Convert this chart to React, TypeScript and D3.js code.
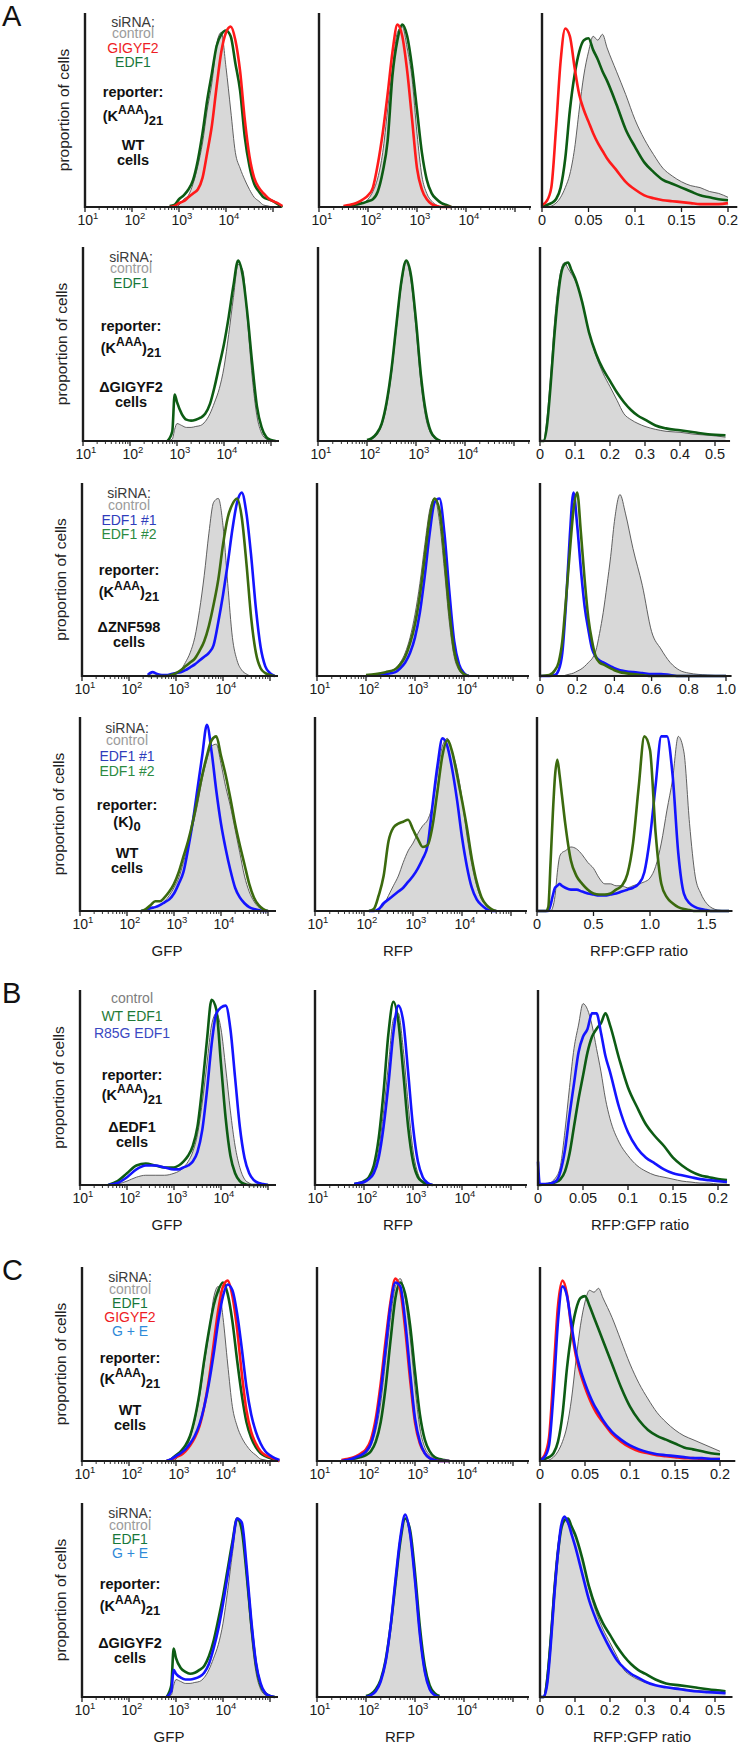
import React, { useEffect } from 'react';
import * as d3 from 'd3';

const FONT = '"Liberation Sans", Arial, Helvetica, sans-serif';
const RED = '#ff1a1a';
const GREEN = '#0d5c14';
const OLIVE = '#3b6a0e';
const BLUE = '#1414ff';
const FILL = '#d8d8d8';
const OUTLINE = '#505050';
const AXIS = '#1c1c1c';

// ---------------- bins (log10 units for GFP / RFP, linear for ratio) ----------------
const gfpBinsWT = [2.8, 2.9, 3.0, 3.1, 3.2, 3.3, 3.4, 3.5, 3.6, 3.7, 3.8, 3.9, 4.0, 4.1, 4.2, 4.3, 4.4, 4.5, 4.6, 4.7, 4.8, 4.9, 5.0, 5.1, 5.2];
const rfpBinsWT = [1.5, 1.6, 1.7, 1.8, 1.9, 2.0, 2.1, 2.2, 2.3, 2.4, 2.5, 2.6, 2.7, 2.8, 2.9, 3.0, 3.1, 3.2, 3.3, 3.4, 3.5, 3.6, 3.7];
const ratioBinsWT = [0, 0.005, 0.01, 0.015, 0.02, 0.025, 0.03, 0.035, 0.04, 0.045, 0.05, 0.055, 0.06, 0.065, 0.07, 0.08, 0.09, 0.1, 0.11, 0.12, 0.13, 0.14, 0.15, 0.16, 0.17, 0.18, 0.19, 0.2];
const gfpBinsDG = [2.8, 2.9, 2.95, 3.0, 3.1, 3.2, 3.3, 3.4, 3.5, 3.6, 3.7, 3.8, 3.9, 4.0, 4.1, 4.2, 4.3, 4.4, 4.5, 4.6, 4.7, 4.8, 4.9, 5.0, 5.1];
const rfpBinsDG = [2.0, 2.1, 2.2, 2.3, 2.4, 2.5, 2.6, 2.7, 2.8, 2.9, 3.0, 3.1, 3.2, 3.3, 3.4, 3.5];
const ratioBinsDG = [0, 0.01, 0.02, 0.03, 0.04, 0.05, 0.06, 0.07, 0.08, 0.09, 0.1, 0.12, 0.14, 0.16, 0.18, 0.2, 0.22, 0.24, 0.26, 0.28, 0.3, 0.33, 0.36, 0.4, 0.44, 0.48, 0.53];
const gfpBinsZ = [2.4, 2.5, 2.6, 2.7, 2.8, 2.9, 3.0, 3.1, 3.2, 3.3, 3.4, 3.5, 3.6, 3.7, 3.8, 3.9, 4.0, 4.1, 4.2, 4.3, 4.4, 4.5, 4.6, 4.7, 4.8, 4.9, 5.0, 5.1];
const rfpBinsZ = [2.0, 2.2, 2.4, 2.6, 2.7, 2.8, 2.9, 3.0, 3.1, 3.2, 3.3, 3.4, 3.5, 3.6, 3.7, 3.8, 3.9, 4.0, 4.1];
const ratioBinsZ = [0, 0.05, 0.08, 0.1, 0.12, 0.14, 0.16, 0.18, 0.2, 0.22, 0.24, 0.26, 0.28, 0.3, 0.32, 0.34, 0.36, 0.38, 0.4, 0.43, 0.46, 0.5, 0.55, 0.6, 0.65, 0.7, 0.75, 0.8, 0.9, 1.0];
const gfpBinsK0 = [2.3, 2.4, 2.5, 2.6, 2.7, 2.8, 2.9, 3.0, 3.1, 3.2, 3.3, 3.4, 3.5, 3.6, 3.7, 3.8, 3.9, 4.0, 4.1, 4.2, 4.3, 4.4, 4.5, 4.6, 4.7, 4.8, 4.9, 5.0];
const rfpBinsK0 = [2.1, 2.2, 2.3, 2.4, 2.5, 2.6, 2.7, 2.8, 2.9, 3.0, 3.1, 3.2, 3.3, 3.4, 3.5, 3.6, 3.7, 3.8, 3.9, 4.0, 4.1, 4.2, 4.3, 4.4, 4.5, 4.6, 4.7];
const ratioBinsK0 = [0, 0.08, 0.1, 0.12, 0.14, 0.16, 0.18, 0.2, 0.22, 0.25, 0.3, 0.35, 0.4, 0.45, 0.5, 0.55, 0.6, 0.65, 0.7, 0.75, 0.8, 0.85, 0.9, 0.95, 1.0, 1.05, 1.1, 1.15, 1.2, 1.25, 1.3, 1.35, 1.4, 1.45, 1.5, 1.55, 1.6, 1.7];
const gfpBinsDE = [1.6, 1.8, 2.0, 2.2, 2.4, 2.6, 2.8, 3.0, 3.1, 3.2, 3.3, 3.4, 3.5, 3.6, 3.7, 3.8, 3.9, 4.0, 4.1, 4.2, 4.3, 4.4, 4.5, 4.6, 4.7, 4.8, 4.9, 5.0];
const rfpBinsDE = [1.8, 1.9, 2.0, 2.1, 2.2, 2.3, 2.4, 2.5, 2.6, 2.7, 2.8, 2.9, 3.0, 3.1, 3.2, 3.3, 3.4];
const ratioBinsDE = [0, 0.002, 0.01, 0.02, 0.025, 0.03, 0.035, 0.04, 0.045, 0.05, 0.055, 0.06, 0.065, 0.07, 0.075, 0.08, 0.09, 0.1, 0.11, 0.12, 0.13, 0.14, 0.15, 0.16, 0.17, 0.18, 0.19, 0.2, 0.21];

// ---------------- A, row 1: WT cells, (KAAA)21 ----------------
const a1GfpControl = [0, 0, 1, 4, 6, 12, 21, 33, 50, 64, 84, 90, 72, 50, 28, 20, 14, 9, 5, 3, 1, 0.5, 0, 0, 0];
const a1GfpEdf1 = [0.5, 1, 4, 6, 9, 14, 24, 38, 55, 69, 83, 89, 91, 88, 74, 60, 36, 21, 12, 8, 5, 4, 3, 1.5, 0];
const a1GfpGigyf2 = [0, 0.5, 2, 3, 5, 7, 9, 15, 28, 42, 62, 80, 90, 93, 86, 70, 45, 26, 15, 10, 7, 4.5, 3, 2, 0.5];
const a1RfpControl = [0, 0, 0.5, 1, 2, 4, 8, 15, 28, 50, 72, 90, 93, 82, 66, 38, 16, 7, 3, 1, 0, 0, 0];
const a1RfpGigyf2 = [0.5, 1, 1.5, 2.5, 4, 6, 10, 22, 38, 58, 80, 94, 88, 70, 45, 20, 9, 4, 1.5, 0.5, 0, 0, 0];
const a1RfpEdf1 = [0, 0.5, 1, 1.5, 2, 3, 4, 8, 18, 34, 68, 86, 94, 88, 72, 50, 28, 14, 7, 4, 2, 1, 0];
const a1RatioControl = [0, 0, 0.5, 2, 5, 10, 17, 30, 50, 68, 80, 88, 86, 89, 82, 70, 58, 45, 35, 27, 20, 16, 13, 11, 10, 8, 7, 5];
const a1RatioEdf1 = [0, 1, 2, 4, 10, 25, 50, 68, 80, 86, 87, 81, 76, 70, 65, 53, 40, 31, 23, 18, 14, 12, 10, 8, 6, 5, 4, 3.5];
const a1RatioGigyf2 = [1, 3, 10, 40, 75, 92, 88, 72, 58, 50, 44, 38, 33, 29, 25, 19, 13, 9, 6, 4.5, 3.5, 3, 2.5, 2, 1.5, 1.5, 1.5, 2];

// ---------------- A, row 2: ΔGIGYF2 cells ----------------
const a2GfpControl = [0, 1, 6, 9, 8, 7, 7, 7.5, 8, 10, 14, 20, 27, 38, 55, 74, 91, 88, 62, 33, 13, 4, 1, 0, 0];
const a2GfpEdf1 = [0, 5, 24, 20, 14, 11, 10.5, 11, 12, 14, 19, 28, 39, 50, 64, 80, 93, 85, 65, 40, 18, 7, 2, 0.5, 0];
const a2RfpControl = [0, 1, 3, 8, 18, 35, 58, 80, 92, 82, 58, 30, 12, 4, 1, 0];
const a2RfpEdf1 = [0.5, 1.5, 4, 9, 20, 37, 60, 82, 93, 85, 62, 34, 15, 5, 1.5, 0];
const a2RatioControl = [0, 0, 12, 33, 58, 77, 88, 92, 89, 86, 83, 72, 56, 44, 35, 28, 21, 14, 11, 9, 7.5, 6, 5, 4.5, 3.5, 3, 2];
const a2RatioEdf1 = [0, 0, 8, 28, 52, 72, 86, 91, 92, 88, 84, 72, 56, 45, 37, 31, 25, 20, 16, 13, 11, 8, 6.5, 5.5, 4.5, 3.5, 3];

// ---------------- A, row 3: ΔZNF598 cells ----------------
const a3GfpControl = [0, 0, 0, 0, 0, 0, 1, 3, 7, 12, 20, 34, 52, 74, 90, 92, 78, 48, 20, 8, 3, 1, 0, 0, 0, 0, 0, 0];
const a3GfpEdf1n1 = [0.5, 2, 1, 0.5, 0.5, 1, 1.5, 2, 3, 4.5, 6, 8, 10, 12, 16, 28, 42, 58, 76, 90, 95, 84, 62, 35, 15, 5, 1.5, 0];
const a3GfpEdf1n2 = [0, 0, 0, 0, 0, 0.5, 1.5, 3, 5, 7, 9, 13, 18, 26, 37, 50, 68, 82, 89, 92, 82, 58, 30, 12, 4, 1.5, 0.5, 0];
const a3RfpControl = [0, 1, 2, 4, 7, 12, 20, 32, 48, 68, 86, 92, 80, 55, 28, 10, 3, 0.5, 0];
const a3RfpEdf1n1 = [0, 0.5, 1, 2, 4, 7, 12, 20, 33, 52, 74, 90, 92, 74, 44, 18, 6, 1.5, 0];
const a3RfpEdf1n2 = [0.5, 1, 2, 3.5, 6, 10, 17, 27, 42, 62, 82, 92, 86, 62, 34, 13, 4, 1, 0];
const a3RatioControl = [0, 0, 0, 0, 0, 0.5, 1, 1.5, 2.5, 3.5, 5, 7, 9, 13, 22, 33, 47, 62, 80, 94, 84, 66, 47, 23, 14, 7, 3, 1.5, 0.5, 0];
const a3RatioEdf1n1 = [0, 0, 0.5, 3, 12, 38, 72, 95, 78, 55, 36, 24, 14, 10, 8, 7, 6, 5, 4, 3, 2.5, 2, 1.5, 1, 1, 0.5, 0, 0, 0, 0];
const a3RatioEdf1n2 = [0, 0.5, 3, 7, 18, 40, 64, 86, 95, 74, 50, 30, 18, 10, 7, 6, 5, 4, 3, 2, 1.5, 1, 0.5, 0, 0, 0, 0, 0, 0, 0];

// ---------------- A, row 4: WT cells, (K)0 ----------------
const a4GfpControl = [0, 0, 1, 2, 3, 5, 8, 12, 17, 25, 34, 44, 55, 68, 78, 85, 86, 76, 64, 54, 42, 30, 18, 10, 5, 2, 0.5, 0];
const a4GfpEdf1n1 = [0, 0.5, 1.5, 2, 3, 4.5, 6, 9, 14, 20, 32, 46, 63, 80, 96, 82, 62, 45, 32, 21, 12, 7, 4, 2, 1, 0.5, 0, 0];
const a4GfpEdf1n2 = [0, 1, 3, 5, 5, 7, 10, 14, 20, 28, 36, 46, 58, 70, 80, 88, 90, 80, 70, 58, 45, 34, 24, 14, 7, 3, 1, 0];
const a4RfpControl = [0, 0, 0.5, 3, 8, 13, 18, 25, 31, 35, 40, 44, 47, 55, 71, 85, 89, 82, 73, 58, 39, 24, 13, 6, 3, 1, 0];
const a4RfpEdf1n1 = [0, 0, 1, 4, 6, 8, 10, 12, 15, 18, 22, 27, 34, 55, 75, 89, 85, 73, 57, 38, 23, 12, 6, 3, 1, 0, 0];
const a4RfpEdf1n2 = [0, 1, 8, 18, 36, 43, 45, 46, 47, 42, 37, 33, 34, 44, 62, 80, 88, 82, 70, 57, 43, 27, 15, 7, 3, 1, 0];
const a4RatioControl = [0, 0, 0, 0, 2, 8, 20, 28, 30, 31, 33, 32, 29, 25, 22, 17, 14, 14, 13, 13, 12, 13, 14, 15, 17, 23, 35, 52, 68, 90, 82, 45, 18, 9, 4, 1.5, 0.5, 0];
const a4RatioEdf1n1 = [0, 0, 0, 3, 8, 12, 13, 14, 13, 12, 11, 11, 10, 9, 8.5, 8, 8, 8.5, 9, 10, 11, 12, 14, 20, 38, 65, 90, 90, 70, 30, 9, 4, 2, 1, 0.5, 0, 0, 0];
const a4RatioEdf1n2 = [0, 0, 2, 25, 50, 70, 78, 70, 60, 45, 26, 18, 14, 11, 9, 8.5, 8.5, 9, 11, 13, 19, 35, 64, 90, 83, 40, 14, 7, 4, 2, 1, 0.5, 0, 0, 0, 0, 0, 0];

// ---------------- B: ΔEDF1 cells ----------------
const bGfpControl = [0, 0.5, 2, 4, 5, 5, 5, 6, 7, 9, 12, 17, 26, 42, 62, 82, 88, 80, 60, 38, 20, 9, 3, 1, 0, 0, 0, 0];
const bGfpWt = [0, 2, 6, 10, 11, 10, 9, 9, 10, 12, 15, 20, 30, 50, 74, 95, 90, 62, 34, 15, 6, 2, 0.5, 0, 0, 0, 0, 0];
const bGfpR85g = [0, 1, 4, 8, 10, 10, 9, 8, 8, 9, 10, 12, 17, 28, 48, 72, 88, 91, 92, 80, 55, 30, 14, 6, 2.5, 1, 0.5, 0];
const bRfpControl = [0, 0.5, 1, 3, 8, 18, 38, 62, 85, 88, 70, 42, 18, 6, 2, 0.5, 0];
const bRfpWt = [0.5, 1, 2, 4, 10, 24, 48, 78, 94, 84, 58, 30, 12, 4, 1.5, 0.5, 0];
const bRfpR85g = [0.5, 1, 1.5, 3, 6, 14, 30, 52, 78, 92, 84, 58, 30, 12, 4, 1, 0];
const bRatioControl = [0, 0, 0.5, 4, 10, 28, 50, 70, 82, 93, 90, 82, 70, 58, 44, 34, 22, 15, 10, 7, 5, 4, 3, 2, 1.5, 1, 1, 0.5, 0.5];
const bRatioWt = [0, 0, 0.5, 1.5, 3, 7, 16, 30, 44, 56, 68, 76, 80, 83, 88, 82, 65, 50, 40, 31, 25, 20, 14, 10, 7, 5, 4, 3, 2.5];
const bRatioR85g = [12, 0.5, 0.5, 2, 7, 18, 36, 52, 68, 76, 80, 88, 88, 78, 66, 58, 40, 27, 19, 14, 11, 8, 6, 5, 4, 3, 2.5, 2, 1.5];

// ---------------- C, row 1: WT cells ----------------
const c1GfpControl = [0, 0, 1, 4, 6, 12, 21, 33, 50, 66, 84, 90, 74, 50, 28, 18, 12, 8, 5, 3, 1, 0.5, 0, 0, 0];
const c1GfpEdf1 = [0, 1, 3, 5, 8, 13, 22, 35, 52, 67, 80, 88, 92, 86, 72, 52, 34, 20, 12, 7, 4, 2.5, 1.5, 0.5, 0];
const c1GfpGigyf2 = [0, 0.5, 2, 3, 5, 8, 12, 18, 28, 42, 60, 78, 90, 93, 85, 68, 45, 26, 15, 9, 5, 3, 2, 1, 0];
const c1GfpGE = [0, 1, 2.5, 4, 6, 9, 13, 19, 28, 40, 55, 72, 85, 91, 88, 76, 58, 38, 24, 15, 9, 5, 3, 1.5, 0.5];
const c1RfpControl = [0, 0, 0.5, 1, 2, 4, 8, 16, 30, 52, 74, 90, 94, 84, 64, 38, 17, 7, 3, 1, 0, 0, 0];
const c1RfpEdf1 = [0, 0.5, 1, 1.5, 2, 3, 5, 10, 20, 38, 62, 84, 92, 86, 70, 46, 24, 11, 5, 2, 1, 0.5, 0];
const c1RfpGigyf2 = [0.5, 1, 1.5, 2.5, 4, 6, 11, 22, 40, 62, 82, 94, 88, 68, 42, 20, 9, 4, 1.5, 0.5, 0, 0, 0];
const c1RfpGE = [0, 0.5, 1, 2, 3, 5, 9, 19, 36, 58, 80, 92, 90, 72, 46, 22, 10, 4, 1.5, 0.5, 0, 0, 0];
const c1RatioControl = [0, 0, 0.5, 2, 5, 10, 18, 32, 52, 70, 82, 88, 87, 89, 84, 74, 62, 50, 40, 32, 25, 20, 16, 13, 11, 9, 7, 5];
const c1RatioEdf1 = [0, 1, 2, 4, 10, 24, 48, 66, 78, 84, 85, 80, 74, 68, 62, 50, 38, 28, 21, 16, 13, 11, 9, 7, 6, 5, 4, 3.5];
const c1RatioGigyf2 = [0.5, 3, 12, 45, 80, 93, 86, 68, 54, 45, 38, 32, 27, 23, 20, 14, 10, 7, 5, 4, 3, 2.5, 2, 1.5, 1.5, 1, 1, 1];
const c1RatioGE = [0.5, 2, 8, 35, 72, 90, 85, 70, 56, 47, 40, 34, 29, 25, 21, 15, 11, 8, 6, 4.5, 3.5, 3, 2.5, 2, 1.5, 1.5, 1, 1];

// ---------------- C, row 2: ΔGIGYF2 cells ----------------
const c2GfpControl = [0, 1, 6, 9, 8, 7, 7, 7.5, 8, 10, 14, 20, 27, 38, 55, 74, 91, 88, 62, 33, 13, 4, 1, 0, 0];
const c2GfpEdf1 = [0, 6, 25, 20, 15, 13, 12, 12.5, 14, 16, 21, 29, 40, 52, 66, 80, 92, 86, 64, 38, 17, 6, 2, 0.5, 0];
const c2GfpGE = [0, 3, 14, 12, 10, 9, 9, 9.5, 10.5, 12.5, 17, 25, 35, 48, 63, 78, 92, 90, 68, 40, 18, 7, 2, 0.5, 0];
const c2RfpControl = [0, 1, 3, 8, 18, 35, 58, 80, 92, 82, 58, 30, 12, 4, 1, 0];
const c2RfpEdf1 = [0.5, 1.5, 4, 9, 19, 36, 58, 80, 92, 86, 64, 36, 16, 6, 2, 0.5];
const c2RfpGE = [0, 1, 3, 8, 18, 36, 60, 82, 94, 84, 60, 32, 13, 4, 1, 0];
const c2RatioControl = [0, 0, 12, 33, 58, 77, 88, 92, 89, 86, 83, 72, 56, 44, 35, 28, 21, 14, 11, 9, 7.5, 6, 5, 4.5, 3.5, 3, 2];
const c2RatioEdf1 = [0, 0, 8, 28, 52, 72, 86, 91, 92, 88, 84, 72, 57, 46, 38, 32, 26, 21, 17, 14, 12, 9, 7, 6, 5, 4, 3];
const c2RatioGE = [0, 0, 6, 25, 50, 72, 88, 93, 90, 84, 78, 64, 50, 40, 32, 25, 19, 15, 12, 10, 8, 6, 5, 4, 3, 2.5, 2];

// ---------------- tick labels ----------------
const logTickExps = [1, 2, 3, 4];
const ratioTicksA1 = [0, 0.05, 0.1, 0.15, 0.2];
const ratioLabelsA1 = ['0', '0.05', '0.1', '0.15', '0.2'];
const ratioTicksA2 = [0, 0.1, 0.2, 0.3, 0.4, 0.5];
const ratioLabelsA2 = ['0', '0.1', '0.2', '0.3', '0.4', '0.5'];
const ratioTicksA3 = [0, 0.2, 0.4, 0.6, 0.8, 1.0];
const ratioLabelsA3 = ['0', '0.2', '0.4', '0.6', '0.8', '1.0'];
const ratioTicksA4 = [0, 0.5, 1.0, 1.5];
const ratioLabelsA4 = ['0', '0.5', '1.0', '1.5'];

// ---------------- layout ----------------
type Curve = { ys: number[]; color: string; fill?: boolean };
type LinAxis = { ppu: number; dmax: number; ticks: number[]; labels: string[] };
type LegendItem = { text: string; color: string; dy: number };
type RowDef = {
  top: number; base: number; ax: [number, number, number]; letter?: string;
  legend: LegendItem[]; legendDx: number;
  reporter: { dy: number; kDy: number; k0?: boolean };
  cells: [string, string, number];
  gfp: { bins: number[]; curves: Curve[] };
  rfp: { bins: number[]; curves: Curve[] };
  ratio: { bins: number[]; curves: Curve[]; axis: LinAxis };
  titles?: boolean;
};

const LEG_GRAY = '#9b9b9b';
const LEG_DARK = '#3a3a3a';
const LEG_RED = '#ee1c24';
const LEG_GREEN = '#17773a';
const LEG_BLUE = '#2f3dbb';
const LEG_GREEN2 = '#2b8a41';
const LEG_SKY = '#2f8ad8';

const rows: RowDef[] = [
  {
    top: 13, base: 207, ax: [85, 319, 542], letter: 'A', legendDx: 48,
    legend: [
      { text: 'siRNA:', color: LEG_DARK, dy: 13.5 }, { text: 'control', color: LEG_GRAY, dy: 25 },
      { text: 'GIGYF2', color: LEG_RED, dy: 39.5 }, { text: 'EDF1', color: LEG_GREEN, dy: 53.5 },
    ],
    reporter: { dy: 84, kDy: 108 }, cells: ['WT', 'cells', 137],
    gfp: { bins: gfpBinsWT, curves: [{ ys: a1GfpControl, color: FILL, fill: true }, { ys: a1GfpEdf1, color: GREEN }, { ys: a1GfpGigyf2, color: RED }] },
    rfp: { bins: rfpBinsWT, curves: [{ ys: a1RfpControl, color: FILL, fill: true }, { ys: a1RfpEdf1, color: GREEN }, { ys: a1RfpGigyf2, color: RED }] },
    ratio: { bins: ratioBinsWT, curves: [{ ys: a1RatioControl, color: FILL, fill: true }, { ys: a1RatioEdf1, color: GREEN }, { ys: a1RatioGigyf2, color: RED }], axis: { ppu: 930, dmax: 0.21, ticks: ratioTicksA1, labels: ratioLabelsA1 } },
  },
  {
    top: 247, base: 441, ax: [83, 318, 540], legendDx: 48,
    legend: [
      { text: 'siRNA:', color: LEG_DARK, dy: 14.5 }, { text: 'control', color: LEG_GRAY, dy: 26 },
      { text: 'EDF1', color: LEG_GREEN, dy: 41 },
    ],
    reporter: { dy: 84, kDy: 106 }, cells: ['\u0394GIGYF2', 'cells', 145],
    gfp: { bins: gfpBinsDG, curves: [{ ys: a2GfpControl, color: FILL, fill: true }, { ys: a2GfpEdf1, color: GREEN }] },
    rfp: { bins: rfpBinsDG, curves: [{ ys: a2RfpControl, color: FILL, fill: true }, { ys: a2RfpEdf1, color: GREEN }] },
    ratio: { bins: ratioBinsDG, curves: [{ ys: a2RatioControl, color: FILL, fill: true }, { ys: a2RatioEdf1, color: GREEN }], axis: { ppu: 350, dmax: 0.543, ticks: ratioTicksA2, labels: ratioLabelsA2 } },
  },
  {
    top: 483, base: 676, ax: [82, 317, 540], legendDx: 47,
    legend: [
      { text: 'siRNA:', color: LEG_DARK, dy: 14.5 }, { text: 'control', color: LEG_GRAY, dy: 26.5 },
      { text: 'EDF1 #1', color: LEG_BLUE, dy: 42 }, { text: 'EDF1 #2', color: LEG_GREEN2, dy: 56 },
    ],
    reporter: { dy: 92, kDy: 114 }, cells: ['\u0394ZNF598', 'cells', 149],
    gfp: { bins: gfpBinsZ, curves: [{ ys: a3GfpControl, color: FILL, fill: true }, { ys: a3GfpEdf1n1, color: BLUE }, { ys: a3GfpEdf1n2, color: OLIVE }] },
    rfp: { bins: rfpBinsZ, curves: [{ ys: a3RfpControl, color: FILL, fill: true }, { ys: a3RfpEdf1n1, color: BLUE }, { ys: a3RfpEdf1n2, color: OLIVE }] },
    ratio: { bins: ratioBinsZ, curves: [{ ys: a3RatioControl, color: FILL, fill: true }, { ys: a3RatioEdf1n1, color: BLUE }, { ys: a3RatioEdf1n2, color: OLIVE }], axis: { ppu: 186, dmax: 1.03, ticks: ratioTicksA3, labels: ratioLabelsA3 } },
  },
  {
    top: 717, base: 911, ax: [80, 315, 537], legendDx: 47, titles: true,
    legend: [
      { text: 'siRNA:', color: LEG_DARK, dy: 15.5 }, { text: 'control', color: LEG_GRAY, dy: 28 },
      { text: 'EDF1 #1', color: LEG_BLUE, dy: 44 }, { text: 'EDF1 #2', color: LEG_GREEN2, dy: 58.5 },
    ],
    reporter: { dy: 93, kDy: 110, k0: true }, cells: ['WT', 'cells', 141],
    gfp: { bins: gfpBinsK0, curves: [{ ys: a4GfpControl, color: FILL, fill: true }, { ys: a4GfpEdf1n1, color: BLUE }, { ys: a4GfpEdf1n2, color: OLIVE }] },
    rfp: { bins: rfpBinsK0, curves: [{ ys: a4RfpControl, color: FILL, fill: true }, { ys: a4RfpEdf1n1, color: BLUE }, { ys: a4RfpEdf1n2, color: OLIVE }] },
    ratio: { bins: ratioBinsK0, curves: [{ ys: a4RatioControl, color: FILL, fill: true }, { ys: a4RatioEdf1n1, color: BLUE }, { ys: a4RatioEdf1n2, color: OLIVE }], axis: { ppu: 113, dmax: 1.73, ticks: ratioTicksA4, labels: ratioLabelsA4 } },
  },
  {
    top: 990, base: 1185, ax: [80, 315, 538], letter: 'B', legendDx: 52, titles: true,
    legend: [
      { text: 'control', color: '#7d7d7d', dy: 13 }, { text: 'WT EDF1', color: '#1e7a36', dy: 30.5 },
      { text: 'R85G EDF1', color: '#3a48c2', dy: 48 },
    ],
    reporter: { dy: 90, kDy: 110 }, cells: ['\u0394EDF1', 'cells', 142],
    gfp: { bins: gfpBinsDE, curves: [{ ys: bGfpControl, color: FILL, fill: true }, { ys: bGfpWt, color: GREEN }, { ys: bGfpR85g, color: BLUE }] },
    rfp: { bins: rfpBinsDE, curves: [{ ys: bRfpControl, color: FILL, fill: true }, { ys: bRfpWt, color: GREEN }, { ys: bRfpR85g, color: BLUE }] },
    ratio: { bins: ratioBinsDE, curves: [{ ys: bRatioControl, color: FILL, fill: true }, { ys: bRatioWt, color: GREEN }, { ys: bRatioR85g, color: BLUE }], axis: { ppu: 900, dmax: 0.213, ticks: ratioTicksA1, labels: ratioLabelsA1 } },
  },
  {
    top: 1267, base: 1461, ax: [82, 317, 540], letter: 'C', legendDx: 48,
    legend: [
      { text: 'siRNA:', color: LEG_DARK, dy: 14.5 }, { text: 'control', color: LEG_GRAY, dy: 26.5 },
      { text: 'EDF1', color: LEG_GREEN, dy: 41 }, { text: 'GIGYF2', color: LEG_RED, dy: 55 },
      { text: 'G + E', color: LEG_SKY, dy: 69 },
    ],
    reporter: { dy: 96, kDy: 117 }, cells: ['WT', 'cells', 148],
    gfp: { bins: gfpBinsWT, curves: [{ ys: c1GfpControl, color: FILL, fill: true }, { ys: c1GfpEdf1, color: GREEN }, { ys: c1GfpGigyf2, color: RED }, { ys: c1GfpGE, color: BLUE }] },
    rfp: { bins: rfpBinsWT, curves: [{ ys: c1RfpControl, color: FILL, fill: true }, { ys: c1RfpEdf1, color: GREEN }, { ys: c1RfpGigyf2, color: RED }, { ys: c1RfpGE, color: BLUE }] },
    ratio: { bins: ratioBinsWT, curves: [{ ys: c1RatioControl, color: FILL, fill: true }, { ys: c1RatioEdf1, color: GREEN }, { ys: c1RatioGigyf2, color: RED }, { ys: c1RatioGE, color: BLUE }], axis: { ppu: 900, dmax: 0.217, ticks: ratioTicksA1, labels: ratioLabelsA1 } },
  },
  {
    top: 1503, base: 1697, ax: [82, 317, 540], legendDx: 48, titles: true,
    legend: [
      { text: 'siRNA:', color: LEG_DARK, dy: 14.5 }, { text: 'control', color: LEG_GRAY, dy: 26.5 },
      { text: 'EDF1', color: LEG_GREEN, dy: 41 }, { text: 'G + E', color: LEG_SKY, dy: 55 },
    ],
    reporter: { dy: 86, kDy: 108 }, cells: ['\u0394GIGYF2', 'cells', 145],
    gfp: { bins: gfpBinsDG, curves: [{ ys: c2GfpControl, color: FILL, fill: true }, { ys: c2GfpEdf1, color: GREEN }, { ys: c2GfpGE, color: BLUE }] },
    rfp: { bins: rfpBinsDG, curves: [{ ys: c2RfpControl, color: FILL, fill: true }, { ys: c2RfpEdf1, color: GREEN }, { ys: c2RfpGE, color: BLUE }] },
    ratio: { bins: ratioBinsDG, curves: [{ ys: c2RatioControl, color: FILL, fill: true }, { ys: c2RatioEdf1, color: GREEN }, { ys: c2RatioGE, color: BLUE }], axis: { ppu: 350, dmax: 0.55, ticks: ratioTicksA2, labels: ratioLabelsA2 } },
  },
];

const COL1_LEN = 196; const COL1_DEC = 47;
const COL2_LEN = 212; const COL2_DEC = 49;

function Curves({ bins, curves, x, y, base }: any) {
  return (
    <g>
      {curves.map((c: Curve, i: number) => {
        const pts: [number, number][] = bins.map((b: number, j: number) => [x(b), y(c.ys[j])]);
        const line = d3.line().curve(d3.curveMonotoneX)(pts) || '';
        if (c.fill) {
          const area = d3.area<[number, number]>().x(d => d[0]).y0(base).y1(d => d[1]).curve(d3.curveMonotoneX)(pts) || '';
          return (
            <g key={i}>
              <path d={area} fill={FILL} stroke="none" />
              <path d={line} fill="none" stroke={OUTLINE} strokeWidth={0.9} />
            </g>
          );
        }
        return <path key={i} d={line} fill="none" stroke={c.color} strokeWidth={2.6} strokeLinejoin="round" />;
      })}
    </g>
  );
}

function LogPanel({ ax, len, dec, top, base, data }: any) {
  const maxExp = 1 + len / dec;
  const xs = d3.scaleLog().domain([10, Math.pow(10, maxExp)]).range([ax, ax + len]);
  const x = (b: number) => xs(Math.pow(10, b));
  const y = d3.scaleLinear().domain([0, 100]).range([base, top]);
  const minor: number[] = [];
  for (let e = 1; e <= 5; e++) for (let m = 2; m <= 9; m++) { const v = m * Math.pow(10, e); if (Math.log10(v) <= maxExp) minor.push(v); }
  const majors = [1, 2, 3, 4, 5].filter(e => e <= maxExp);
  return (
    <g>
      <Curves bins={data.bins} curves={data.curves} x={x} y={y} base={base} />
      <line x1={ax} x2={ax} y1={top} y2={base + 1} stroke={AXIS} strokeWidth={2.4} />
      <line x1={ax - 1} x2={ax + len} y1={base} y2={base} stroke={AXIS} strokeWidth={2.2} />
      {majors.map(e => <line key={'M' + e} x1={xs(Math.pow(10, e))} x2={xs(Math.pow(10, e))} y1={base} y2={base + 5} stroke={AXIS} strokeWidth={1.3} />)}
      {minor.map((v, i) => <line key={'m' + i} x1={xs(v)} x2={xs(v)} y1={base} y2={base + 3} stroke={AXIS} strokeWidth={0.9} />)}
      {logTickExps.map(e => (
        <text key={'t' + e} x={xs(Math.pow(10, e)) - 7.6} y={base + 18} fontSize={14} fill="#1a1a1a" fontFamily={FONT}>
          10<tspan dy={-6} fontSize={9.5}>{e}</tspan>
        </text>
      ))}
    </g>
  );
}

function LinPanel({ ax, top, base, data }: any) {
  const a: LinAxis = data.axis;
  const xs = d3.scaleLinear().domain([0, a.dmax]).range([ax, ax + a.dmax * a.ppu]);
  const y = d3.scaleLinear().domain([0, 100]).range([base, top]);
  return (
    <g>
      <Curves bins={data.bins} curves={data.curves} x={xs} y={y} base={base} />
      <line x1={ax} x2={ax} y1={top} y2={base + 1} stroke={AXIS} strokeWidth={2.4} />
      <line x1={ax - 1} x2={xs(a.dmax)} y1={base} y2={base} stroke={AXIS} strokeWidth={2.2} />
      {a.ticks.map((t, i) => (
        <g key={i}>
          <line x1={xs(t)} x2={xs(t)} y1={base} y2={base + 5} stroke={AXIS} strokeWidth={1.3} />
          <text x={xs(t)} y={base + 18} fontSize={14.5} textAnchor="middle" fill="#1a1a1a" fontFamily={FONT}>{a.labels[i]}</text>
        </g>
      ))}
    </g>
  );
}

function Row({ r }: { r: RowDef }) {
  const cx = r.ax[0] + r.legendDx;
  const mid = (r.top + r.base) / 2;
  return (
    <g>
      {r.letter && <text x={2} y={r.top + 13} fontSize={29} fontFamily={FONT} fill="#111">{r.letter}</text>}
      <text transform={`translate(${r.ax[0] - 16},${mid}) rotate(-90)`} textAnchor="middle" fontSize={15.5} fontFamily={FONT} fill="#222">proportion of cells</text>
      {r.legend.map((l, i) => (
        <text key={i} x={cx} y={r.top + l.dy} textAnchor="middle" fontSize={14} fontFamily={FONT} fill={l.color}>{l.text}</text>
      ))}
      <text x={cx} y={r.top + r.reporter.dy} textAnchor="middle" fontSize={14.5} fontWeight="bold" fontFamily={FONT} fill="#111">reporter:</text>
      {r.reporter.k0 ? (
        <text x={cx} y={r.top + r.reporter.kDy} textAnchor="middle" fontSize={14.5} fontWeight="bold" fontFamily={FONT} fill="#111">
          (K)<tspan dy={4} fontSize={13}>0</tspan>
        </text>
      ) : (
        <text x={cx} y={r.top + r.reporter.kDy} textAnchor="middle" fontSize={14.5} fontWeight="bold" fontFamily={FONT} fill="#111">
          (K<tspan dy={-7} fontSize={12}>AAA</tspan><tspan dy={7}>)</tspan><tspan dy={4} fontSize={13}>21</tspan>
        </text>
      )}
      <text x={cx} y={r.top + r.cells[2]} textAnchor="middle" fontSize={14.5} fontWeight="bold" fontFamily={FONT} fill="#111">{r.cells[0]}</text>
      <text x={cx} y={r.top + r.cells[2] + 14.5} textAnchor="middle" fontSize={14.5} fontWeight="bold" fontFamily={FONT} fill="#111">{r.cells[1]}</text>
      <LogPanel ax={r.ax[0]} len={COL1_LEN} dec={COL1_DEC} top={r.top} base={r.base} data={r.gfp} />
      <LogPanel ax={r.ax[1]} len={COL2_LEN} dec={COL2_DEC} top={r.top} base={r.base} data={r.rfp} />
      <LinPanel ax={r.ax[2]} top={r.top} base={r.base} data={r.ratio} />
      {r.titles && (
        <g fontFamily={FONT} fontSize={15} fill="#1a1a1a" textAnchor="middle">
          <text x={r.ax[0] + 87} y={r.base + 45}>GFP</text>
          <text x={r.ax[1] + 83} y={r.base + 45}>RFP</text>
          <text x={r.ax[2] + 102} y={r.base + 45}>RFP:GFP ratio</text>
        </g>
      )}
    </g>
  );
}

export default function App() {
  useEffect(() => { document.body.style.margin = '0'; }, []);
  return (
    <svg width={740} height={1748} viewBox="0 0 740 1748" style={{ position: 'absolute', left: 0, top: 0, background: '#fff' }}>
      <rect x={0} y={0} width={740} height={1748} fill="#fff" />
      {rows.map((r, i) => <Row key={i} r={r} />)}
    </svg>
  );
}
